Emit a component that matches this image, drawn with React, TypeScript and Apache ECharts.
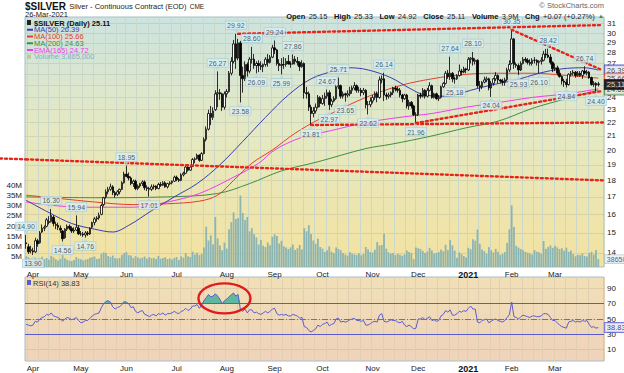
import React, { useEffect, useRef } from "react";
import * as echarts from "echarts";

// ---------- DATA ----------
const holidays = ["2020-04-10", "2020-05-25", "2020-07-03", "2020-09-07", "2020-11-26", "2020-12-25", "2021-01-01", "2021-01-18", "2021-02-15"];

const opens = [
  14.50,14.30,14.10,14.10,14.05,14.60,14.50,15.05,15.25,15.35,
  15.60,15.60,15.85,15.45,15.40,15.25,15.10,14.75,15.20,15.35,
  15.25,15.10,15.15,15.25,14.95,14.95,14.90,15.00,14.95,15.30,
  15.55,15.75,15.80,16.00,16.55,17.00,17.30,17.45,17.60,17.25,
  17.15,17.30,17.45,17.85,18.40,18.25,18.15,17.80,17.95,17.50,
  17.65,17.80,17.90,17.55,17.50,17.45,17.60,17.65,17.50,17.75,
  17.70,17.85,17.60,17.80,17.85,17.95,18.20,18.05,18.00,18.35,
  18.45,18.85,18.65,18.90,19.35,19.40,19.65,19.30,19.75,20.75,
  21.50,22.70,22.40,23.00,24.30,24.40,24.30,23.20,24.30,24.50,
  26.10,27.20,28.90,27.50,29.00,25.90,25.60,26.90,26.30,27.40,
  27.40,26.80,27.00,26.80,26.70,26.90,27.40,27.10,27.60,28.50,
  28.30,27.00,26.80,26.90,26.90,27.20,26.95,26.95,27.40,27.20,
  27.10,26.70,27.00,24.40,24.30,23.20,22.70,22.90,23.20,24.00,
  23.50,23.90,24.10,24.40,23.40,23.70,23.90,24.90,25.00,24.10,
  24.30,24.20,24.30,24.60,24.80,25.00,24.60,24.60,24.40,24.60,
  23.40,23.40,23.70,24.00,24.30,24.00,25.50,25.60,24.20,24.10,
  24.20,24.40,24.80,24.70,24.60,24.20,23.90,24.20,23.30,23.60,
  23.30,22.60,22.60,24.20,24.10,24.60,24.10,24.60,25.00,24.00,
  24.30,23.90,24.00,24.90,25.20,26.10,25.80,26.10,25.60,25.60,
  25.90,26.30,26.20,26.50,26.40,27.40,27.50,27.20,27.30,25.00,
  24.90,25.30,25.50,25.60,24.80,25.20,25.60,25.90,25.50,25.40,
  25.30,25.50,26.40,27.00,29.40,26.90,26.80,26.40,27.00,27.40,
  27.30,27.10,27.00,27.30,27.30,27.10,27.20,27.30,27.90,27.80,
  27.60,27.10,26.50,26.60,26.10,25.80,25.40,25.30,25.10,26.00,
  26.10,26.20,25.90,26.10,25.90,26.30,26.10,26.20,25.70,25.10,
  25.20,25.15,
];
const highs = [
  14.90,14.45,14.35,14.25,14.75,14.70,15.10,15.45,15.40,15.80,
  15.90,16.30,15.95,15.60,15.55,15.40,15.15,15.25,15.45,15.45,
  15.35,15.30,15.94,15.40,15.10,15.05,15.10,15.10,15.30,15.60,
  15.85,15.90,16.10,16.60,17.00,17.45,17.60,17.80,17.70,17.35,
  17.40,17.50,17.95,18.55,18.95,18.50,18.25,18.05,18.05,17.75,
  17.85,18.00,18.00,17.70,17.60,17.75,17.75,17.70,17.85,17.90,
  17.95,17.95,17.85,17.95,18.00,18.30,18.30,18.15,18.45,18.55,
  18.90,18.95,18.90,19.45,19.50,19.75,19.70,19.85,20.90,21.70,
  23.00,23.30,23.20,24.60,26.27,24.70,24.40,24.50,24.70,26.30,
  27.60,29.30,29.92,29.40,29.20,26.70,27.20,27.10,27.60,28.60,
  27.90,27.20,27.30,27.20,27.00,27.60,27.90,27.80,28.80,29.24,
  28.40,27.40,27.50,27.60,27.50,27.80,27.20,27.86,27.70,27.60,
  27.20,27.30,27.10,24.90,24.50,23.40,23.20,23.50,24.20,24.10,
  24.20,24.40,24.67,24.60,23.90,24.10,25.10,25.71,25.10,24.50,
  24.40,24.60,24.90,25.00,25.30,25.10,24.90,24.80,24.80,24.70,
  23.70,24.00,24.20,24.50,24.50,25.80,25.90,26.14,24.40,24.40,
  24.50,24.90,25.00,24.90,24.80,24.30,24.30,24.30,23.80,23.70,
  23.40,22.80,24.30,24.40,24.80,24.70,24.80,25.30,25.10,24.40,
  24.40,24.20,25.00,25.30,26.30,26.40,27.64,26.20,25.80,26.00,
  26.90,26.50,26.70,26.60,27.60,27.60,28.10,27.50,27.40,25.40,
  25.40,25.80,25.80,25.70,25.40,25.70,26.20,26.00,25.60,25.60,
  25.70,26.60,27.30,30.35,29.50,27.10,27.00,27.20,27.60,27.60,
  27.50,27.40,27.50,27.60,27.40,27.30,27.60,28.20,28.40,28.42,
  27.90,27.20,27.00,26.80,26.40,25.90,25.60,25.60,26.10,26.30,
  26.40,26.30,26.30,26.30,26.40,26.74,26.40,26.30,25.80,25.40,
  25.30,25.33,
];
const lows = [
  14.20,13.95,13.98,13.90,14.00,14.30,14.45,15.00,15.10,15.30,
  15.45,15.55,15.35,15.20,15.15,15.00,14.56,14.70,15.10,15.15,
  15.00,15.00,15.10,14.90,14.85,14.80,14.76,14.85,14.90,15.25,
  15.40,15.60,15.70,15.95,16.45,16.90,17.15,17.35,17.10,16.95,
  17.05,17.15,17.40,17.80,18.20,18.00,17.70,17.60,17.40,17.40,
  17.55,17.65,17.40,17.35,17.01,17.35,17.45,17.40,17.45,17.60,
  17.65,17.55,17.50,17.70,17.75,17.90,17.95,17.90,17.95,18.25,
  18.40,18.55,18.60,18.85,19.10,19.35,19.20,19.25,19.70,20.60,
  21.40,21.80,22.20,22.90,23.20,23.80,22.90,23.00,24.00,24.40,
  25.90,27.00,26.50,27.30,23.58,24.40,25.40,25.80,26.10,27.00,
  26.50,26.09,26.20,26.40,26.20,26.70,26.70,27.00,27.50,27.90,
  26.80,26.30,25.99,26.50,26.70,26.90,26.60,26.90,26.90,26.80,
  26.30,26.60,23.90,23.90,22.90,21.81,22.40,22.70,23.10,23.20,
  23.40,23.30,23.90,22.97,23.20,23.60,23.80,24.70,23.90,23.90,
  23.65,24.00,24.10,24.30,24.60,24.40,24.40,24.10,24.20,23.10,
  22.62,23.20,23.50,23.80,23.60,23.90,25.20,23.70,23.80,23.90,
  24.00,24.20,24.50,24.40,24.00,23.60,23.80,23.10,23.00,23.10,
  22.50,21.96,22.50,23.90,24.00,23.90,24.00,24.50,23.90,23.90,
  23.80,23.70,23.90,24.80,25.10,25.60,25.50,25.30,25.18,25.50,
  25.80,25.90,26.10,26.10,26.30,27.00,26.80,26.90,24.80,24.50,
  24.70,25.20,25.30,24.60,24.04,25.00,25.40,25.20,25.20,25.00,
  25.00,25.40,26.20,26.90,26.50,26.60,25.93,26.30,26.90,27.10,
  26.90,26.80,26.80,27.00,26.80,26.10,26.90,27.20,27.50,27.50,
  26.90,26.20,26.30,25.90,25.70,25.10,24.90,24.84,25.00,25.80,
  25.90,25.70,25.80,25.80,25.60,26.00,25.90,25.60,25.00,24.90,
  24.40,24.92,
];
const closes = [
  14.45,14.05,14.15,14.05,14.60,14.45,15.00,15.25,15.30,15.70,
  15.55,15.95,15.50,15.40,15.30,15.15,14.70,15.20,15.35,15.25,
  15.10,15.15,15.30,14.95,14.95,14.90,15.00,14.95,15.25,15.55,
  15.75,15.80,15.95,16.50,16.95,17.30,17.45,17.60,17.25,17.10,
  17.30,17.45,17.85,18.40,18.25,18.15,17.80,17.95,17.50,17.65,
  17.80,17.90,17.55,17.50,17.45,17.60,17.65,17.50,17.75,17.70,
  17.85,17.60,17.80,17.85,17.95,18.20,18.05,18.00,18.35,18.45,
  18.85,18.65,18.85,19.35,19.40,19.65,19.30,19.75,20.75,21.50,
  22.70,22.40,22.90,24.30,24.40,24.30,23.20,24.30,24.50,26.10,
  27.20,28.90,27.50,29.00,25.90,25.60,26.90,26.30,27.40,27.40,
  26.80,27.00,26.80,26.70,26.90,27.40,27.10,27.60,28.50,28.30,
  27.00,26.80,26.90,26.90,27.20,26.95,26.95,27.40,27.20,27.10,
  26.70,27.00,24.40,24.30,23.20,22.70,22.90,23.20,24.00,23.50,
  23.90,24.10,24.40,23.40,23.70,23.90,24.90,25.00,24.10,24.30,
  24.20,24.30,24.60,24.80,25.00,24.60,24.60,24.40,24.60,23.40,
  23.40,23.70,24.00,24.30,24.00,25.50,25.60,24.20,24.10,24.20,
  24.40,24.80,24.70,24.60,24.20,23.90,24.20,23.30,23.60,23.30,
  22.60,22.60,24.20,24.10,24.60,24.10,24.60,25.00,24.00,24.30,
  23.90,24.00,24.90,25.20,26.10,25.80,26.10,25.60,25.60,25.90,
  26.30,26.20,26.50,26.40,27.40,27.50,27.20,27.30,25.00,24.90,
  25.30,25.50,25.60,24.80,25.20,25.60,25.90,25.50,25.40,25.30,
  25.50,26.40,26.90,29.40,26.90,26.80,26.40,27.00,27.40,27.30,
  27.10,27.00,27.30,27.30,27.10,27.20,27.30,27.90,27.80,27.60,
  27.10,26.50,26.60,26.10,25.80,25.40,25.30,25.10,26.00,26.10,
  26.20,25.90,26.10,25.90,26.30,26.10,26.20,25.70,25.10,25.20,
  25.04,25.11,
];

// volume in millions of contracts
const volumesM = [
  5.2,4.8,4.1,3.5,4.6,3.8,4.2,5.0,3.9,4.4,3.6,5.5,4.7,3.8,3.2,4.0,5.8,4.3,3.6,3.1,2.9,3.4,4.9,4.1,
  3.8,3.2,3.6,3.9,4.5,4.8,5.1,3.9,4.2,6.4,7.2,6.8,5.4,4.9,5.6,4.3,4.1,4.4,5.9,6.8,
  7.3,5.8,5.6,4.4,5.3,4.7,4.2,4.6,5.1,4.0,4.8,4.3,4.5,3.9,5.4,4.1,4.4,4.8,3.9,4.2,3.7,4.5,
  4.9,3.4,5.2,4.6,6.8,5.3,4.9,7.5,6.1,7.0,5.8,6.4,
  9.5,19.8,13.0,15.5,11.0,24.5,14.0,10.5,8.2,12.0,
  9.0,18.5,22.0,26.8,23.5,24.0,35.0,26.5,23.0,24.5,17.5,19.0,16.0,14.5,11.0,13.2,10.5,9.8,12.0,10.6,14.8,
  16.0,15.2,11.5,12.8,10.2,9.5,8.8,9.6,11.0,8.4,9.2,10.8,8.6,19.0,17.5,20.5,16.2,13.0,11.4,13.8,9.8,
  9.0,7.4,8.2,10.1,7.5,6.8,9.6,8.8,8.2,6.9,6.1,5.6,7.3,6.5,6.2,5.9,6.7,5.8,6.4,9.8,8.6,7.3,
  7.1,8.4,12.2,10.5,10.8,16.3,9.0,7.2,6.5,6.9,5.8,6.4,6.0,5.5,6.2,8.1,7.4,6.8,3.9,9.6,
  9.2,8.8,7.9,6.8,7.6,9.4,8.1,6.6,6.9,7.3,8.6,7.7,10.9,8.3,13.2,10.6,8.0,4.5,7.2,6.3,5.4,4.6,
  9.4,8.7,13.6,12.9,18.3,11.4,8.6,7.8,6.5,9.7,8.2,7.1,8.9,7.5,5.9,6.4,7.3,11.8,18.5,
  30.2,19.6,10.4,9.5,8.8,8.2,7.4,7.0,6.6,6.1,8.3,7.5,7.2,6.5,12.7,8.9,9.8,10.6,9.4,
  10.4,9.6,8.8,9.2,8.0,9.5,7.4,8.1,6.3,5.2,6.0,5.8,6.6,5.4,5.2,6.9,7.4,6.1,8.3,3.865,
];

const rsi14 = [
  43,42,41,42, 47,46,50,52,53,56,55,58,54, 53,52,50,47,50,52,51,49,50,52,48, 45,46,48,
  48,51,54,56,57,58, 65,70,73,74,72, 66,63,65,66,69,73, 72,70,65,66,60, 58,60,61,56,55,53,55,56,
  54,57,56,58,55,57,57,58,60, 58,57,60,61,64,61,63, 67,67,69,64,68, 74,78,82,79,80,83,80,76, 70,
  74,76,79,82,84,80,82, 62, 60,63,58,62,62,58,59, 57,56,58,60,58,60,63, 64,57,55,56,
  55,56,54,54,56,55,54,51,52, 40,39,35,33,35, 37,42,40, 43,44,46,41,43,44,50,51,
  46,47,46,47,49,50,51,48,48,47,48,42,42,44, 46,47,46,55,57,47,46, 47,49,48,48,46,45,47,42,
  40,42,40,37,38, 50,50,52,49,51,53,48,49,47, 48,54,56,61,59,62,55,55,57,60, 59,61,60,64,67,63,
  63,46, 45,48,49,50,45,47,49,50,48,47,46,48,52,56, 72, 53,52,50,53,
  55,54,53,52,54,54,53,53,54,57,57,56, 52,48, 48,45,42,40,39,38, 46,47,48,46,47,46,48,47,48,
  43,39,40,38,38.83,
];

// moving averages: [trading-day index, value]
const ma50Pts = [[0,16.8],[10,16.1],[20,15.5],[30,15.2],[38,15.05],[45,15.4],[55,16.2],[65,17.0],[75,17.8],[85,19.0],[95,20.6],[105,22.4],[115,24.2],[125,25.6],[135,26.3],[142,26.6],[150,26.4],[160,25.7],[168,24.8],[175,24.2],[185,24.1],[195,24.6],[205,25.1],[215,25.5],[225,26.1],[235,26.5],[245,26.6],[251,26.39]];
const ma100Pts = [[0,17.1],[15,16.9],[30,16.7],[47,16.55],[62,16.6],[76,16.75],[84,17.1],[91,18.0],[99,19.1],[108,20.0],[118,21.2],[128,22.2],[135,22.8],[149,24.0],[164,25.0],[178,25.6],[193,26.0],[208,26.1],[222,26.1],[237,25.9],[251,25.66]];
const ma200Pts = [[0,17.0],[30,16.95],[62,17.0],[84,17.2],[98,17.8],[112,18.6],[128,19.2],[149,20.1],[160,20.4],[178,21.0],[193,21.6],[207,22.1],[222,23.1],[237,23.9],[251,24.63]];
const ema165Pts = [[0,16.7],[12,16.5],[25,16.4],[47,16.4],[62,16.7],[76,17.2],[91,18.2],[102,19.1],[109,20.0],[121,20.9],[134,21.4],[149,22.0],[164,22.4],[178,22.7],[193,23.2],[208,23.6],[222,24.0],[237,24.3],[251,24.72]];

const priceTicks = [14,15,16,17,18,19,20,21,22,23,24,25,26,27,28,29,30,31];
const rsiTicks = [10,30,50,70,90];

const highMarks = [0,11,22,44,84,92,99,109,117,132,137,157,186,196,213,229,245];
const lowMarks = [3,16,26,54,94,101,112,125,133,140,150,171,188,204,216,225,237,250];

// trend lines: [fromIndex, fromPrice, toIndex, toPrice]
const trendLines = [
  [93, 29.92, 253, 30.85],
  [213, 30.35, 253, 26.35],
  [125, 21.81, 253, 22.0],
  [171, 21.96, 253, 24.55],
  [0, 19.36, 253, 18.0],
];
const overboughtCircle = { idx: 87, rsi: 77 };

// ---------- helpers ----------
function tradingDays(): string[] {
  const out: string[] = [];
  const d = new Date(Date.UTC(2020, 2, 27));
  const end = Date.UTC(2021, 2, 26);
  while (d.getTime() <= end) {
    const wd = d.getUTCDay();
    const s = d.toISOString().slice(0, 10);
    if (wd !== 0 && wd !== 6 && holidays.indexOf(s) < 0) out.push(s);
    d.setUTCDate(d.getUTCDate() + 1);
  }
  return out;
}
const MONTHS = ["Jan","Feb","Mar","Apr","May","Jun","Jul","Aug","Sep","Oct","Nov","Dec"];
const FONT = "Liberation Sans, Arial, sans-serif";
const RED = "#e8231a";

function buildOption() {
  const dates = tradingDays();
  const N = dates.length;
  const cats = [...dates, "pad-1", "pad-2"];
  const dow = (s: string) => new Date(s + "T00:00:00Z").getUTCDay();
  const isMonthStart = (i: number) => i > 0 && i < N && dates[i].slice(0, 7) !== dates[i - 1].slice(0, 7);
  const isWeekStart = (i: number) => i > 0 && i < N && dow(dates[i]) <= dow(dates[i - 1]);
  const fmtMonth = (v: string) => {
    if (v.startsWith("pad")) return "";
    const m = +v.slice(5, 7) - 1;
    return m === 0 ? `{b|${v.slice(0, 4)}}` : MONTHS[m];
  };
  const monthLabel = {
    show: true, interval: (i: number) => isMonthStart(i), formatter: fmtMonth,
    fontSize: 8, color: "#222", margin: 3, fontFamily: FONT,
    rich: { b: { fontWeight: "bold", fontSize: 9, color: "#111", fontFamily: FONT } },
  };
  const weekLinesMain = { show: true, interval: (i: number) => isWeekStart(i), lineStyle: { color: "#cbd7c8", width: 1, opacity: 1 } };
  const weekLinesRsi = { show: true, interval: (i: number) => isWeekStart(i), lineStyle: { color: "#e2cfb2", width: 1, opacity: 1 } };
  const hidden = { axisLine: { show: false }, axisTick: { show: false } };

  const candles = dates.map((_, i) => [opens[i], closes[i], lows[i], highs[i]]);
  const last = (a: number[][]) => a[a.length - 1][1];

  const annLabel = {
    show: true, fontSize: 7, fontFamily: FONT, color: "#1f3940",
    backgroundColor: "#d9edf2", borderColor: "#9fc7d2", borderWidth: 0.6,
    padding: [1, 1.5, 0, 1.5], formatter: (p: any) => p.value[1].toFixed(2),
  };
  const sideLabel = (border: string, bg: string, color: string) => ({
    show: true, position: "right", distance: 2, fontSize: 7.5, fontFamily: FONT, color,
    backgroundColor: bg, borderColor: border, borderWidth: 1, padding: [1, 2, 0, 2],
    formatter: (p: any) => p.value[1].toFixed(2),
  });

  const gradMain = new echarts.graphic.LinearGradient(0, 0, 0, 1, [
    { offset: 0, color: "#cce3df" }, { offset: 0.45, color: "#e5e9c3" }, { offset: 1, color: "#f3e2a0" },
  ]);
  const gradRsi = new echarts.graphic.LinearGradient(0, 0, 0, 1, [
    { offset: 0, color: "#f1dfb6" }, { offset: 1, color: "#efd3bb" },
  ]);

  const legendRows = [
    { text: `$SILVER (Daily) ${closes[N - 1].toFixed(2)}`, color: "#111", bold: true },
    { text: `MA(50) ${last(ma50Pts).toFixed(2)}`, color: "#3b3bb0" },
    { text: `MA(100) ${last(ma100Pts).toFixed(2)}`, color: "#e0402a" },
    { text: `MA(200) ${last(ma200Pts).toFixed(2)}`, color: "#3f8f3f" },
    { text: `EMA(165) ${last(ema165Pts).toFixed(2)}`, color: "#ee3cee" },
    { text: `Volume ${Math.round(volumesM[N - 1] * 1e6).toLocaleString("en-US")}`, color: "#7fb0c6" },
  ];

  const graphic: any[] = [
    {
      id: "title", type: "text", left: 25, top: 0, z: 50,
      style: {
        text: "{a|$SILVER} {b|Silver - Continuous Contract (EOD)} {c|CME}",
        rich: {
          a: { font: `bold 10px ${FONT}`, fill: "#111" },
          b: { font: `7.5px ${FONT}`, fill: "#222" },
          c: { font: `6.5px ${FONT}`, fill: "#222" },
        },
      },
    },
    { id: "date", type: "text", left: 25, top: 10, z: 50, style: { text: "26-Mar-2021", font: `7.5px ${FONT}`, fill: "#222" } },
    { id: "copy", type: "text", right: 20, top: 1, z: 50, style: { text: "© StockCharts.com", font: `7.5px ${FONT}`, fill: "#666" } },
    {
      id: "ohlc", type: "text", right: 20, top: 10, z: 50,
      style: {
        text: "{l|Open} {v|25.15}  {l|High} {v|25.33}  {l|Low} {v|24.92}  {l|Close} {v|25.11}  {l|Volume} {v|3.9M}  {l|Chg} {v|+0.07 (+0.27%)} {g|▲}",
        rich: {
          l: { font: `bold 7.5px ${FONT}`, fill: "#111" },
          v: { font: `7.5px ${FONT}`, fill: "#222" },
          g: { font: `6px ${FONT}`, fill: "#2a9a2a" },
        },
      },
    },
    ...legendRows.map((r, i) => ({
      id: "leg" + i, type: "group", left: 27, top: 19 + i * 6.75, z: 50,
      children: [
        i === 0
          ? { type: "rect", z: 50, shape: { x: 0, y: 1, width: 4, height: 5 }, style: { fill: "#222" } }
          : i === 5
            ? { type: "rect", z: 50, shape: { x: 0, y: 2, width: 4, height: 4 }, style: { fill: "#b9c99a" } }
            : { type: "rect", z: 50, shape: { x: 0, y: 3, width: 6, height: 2 }, style: { fill: r.color } },
        { type: "text", z: 50, x: 7, y: 0, style: { text: r.text, fill: r.color, font: `${r.bold ? "bold " : ""}7.5px ${FONT}`, verticalAlign: "top" } },
      ],
    })),
    {
      id: "rsiLeg", type: "group", left: 27, top: 279, z: 50,
      children: [
        { type: "rect", z: 50, shape: { x: 0, y: 1, width: 4, height: 5 }, style: { fill: "#5c5cd0" } },
        { type: "text", z: 50, x: 6, y: 0, style: { text: `RSI(14) ${rsi14[N - 1].toFixed(2)}`, fill: "#333", font: `7.5px ${FONT}`, verticalAlign: "top" } },
      ],
    },
  ];

  const option: any = {
    animation: false,
    backgroundColor: "#ffffff",
    textStyle: { fontFamily: FONT },
    grid: [
      { left: 25, width: 579, top: 17, height: 250, show: true, backgroundColor: gradMain, borderColor: "#a9bccb", borderWidth: 1 },
      { left: 25, width: 579, top: 277, height: 86, show: true, backgroundColor: gradRsi, borderColor: "#a9bccb", borderWidth: 1 },
    ],
    xAxis: [
      { type: "category", gridIndex: 0, data: cats, boundaryGap: true, ...hidden, axisLabel: monthLabel, splitLine: weekLinesMain },
      { type: "category", gridIndex: 1, data: cats, boundaryGap: true, ...hidden, axisLabel: monthLabel, splitLine: weekLinesRsi },
    ],
    yAxis: [
      {
        type: "log", logBase: 10, gridIndex: 0, position: "right", min: 13.33, max: 31.72,
        axisLine: { show: false }, axisTick: { show: false, customValues: priceTicks },
        axisLabel: { customValues: priceTicks, fontSize: 8, color: "#222", margin: 3, fontFamily: FONT, formatter: (v: number) => String(Math.round(v)) },
        splitLine: { show: true, lineStyle: { color: "rgba(100,125,125,0.17)" } },
      },
      {
        type: "value", gridIndex: 0, position: "left", min: 0, max: 122.5, interval: 5,
        axisLine: { show: false }, axisTick: { show: false }, splitLine: { show: false },
        axisLabel: { fontSize: 8, color: "#222", margin: 3, fontFamily: FONT, formatter: (v: number) => (v > 0 && v <= 40 ? v + "M" : "") },
      },
      {
        type: "value", gridIndex: 1, position: "right", min: -5, max: 105,
        axisLine: { show: false }, axisTick: { show: false, customValues: rsiTicks },
        axisLabel: { customValues: rsiTicks, fontSize: 8, color: "#222", margin: 3, fontFamily: FONT },
        splitLine: { show: true, lineStyle: { color: "rgba(110,120,120,0.16)" } },
      },
    ],
    series: [
      {
        name: "Volume", type: "bar", xAxisIndex: 0, yAxisIndex: 1, data: volumesM, barWidth: "78%",
        itemStyle: { color: "#8cb4b1" }, z: 1, silent: true,
      },
      ...[
        { name: "MA(200)", pts: ma200Pts, color: "#3f8f3f" },
        { name: "EMA(165)", pts: ema165Pts, color: "#ee3cee" },
        { name: "MA(100)", pts: ma100Pts, color: "#e0402a" },
        { name: "MA(50)", pts: ma50Pts, color: "#3b3bb0" },
      ].map((m) => ({
        name: m.name, type: "line", xAxisIndex: 0, yAxisIndex: 0, data: m.pts, smooth: 0.35,
        symbol: "none", lineStyle: { color: m.color, width: 1 }, z: 2, silent: true,
      })),
      {
        name: "$SILVER", type: "candlestick", xAxisIndex: 0, yAxisIndex: 0, data: candles, barWidth: 2,
        itemStyle: { color: "#ffffff", color0: "#000000", borderColor: "#000000", borderColor0: "#000000", borderWidth: 0.8 },
        z: 3,
        markLine: {
          silent: true, symbol: ["none", "none"], label: { show: false },
          lineStyle: { color: RED, type: [2, 3], width: 2.4, cap: "round" },
          data: trendLines.map((t) => [{ coord: [t[0], t[1]] }, { coord: [t[2], t[3]] }]),
        },
      },
      {
        name: "highs", type: "scatter", xAxisIndex: 0, yAxisIndex: 0,
        data: highMarks.map((i) => [i, highs[i]]),
        symbol: "triangle", symbolRotate: 180, symbolSize: [5, 4], symbolOffset: [0, -2.5],
        itemStyle: { color: "#b7dbe4" }, z: 5,
        label: { ...annLabel, position: "top", distance: 0 },
      },
      {
        name: "lows", type: "scatter", xAxisIndex: 0, yAxisIndex: 0,
        data: lowMarks.map((i) => [i, lows[i]]),
        symbol: "triangle", symbolSize: [5, 4], symbolOffset: [0, 2.5],
        itemStyle: { color: "#b7dbe4" }, z: 5,
        label: { ...annLabel, position: "bottom", distance: 0 },
      },
      {
        name: "lastValues", type: "scatter", xAxisIndex: 0, yAxisIndex: 0, symbolSize: 0, z: 6, clip: false,
        data: [
          { value: [253, last(ma50Pts)], label: sideLabel("#3b3bb0", "#e2e6f4", "#222") },
          { value: [253, last(ma100Pts)], label: sideLabel("#e0402a", "#f6e3dc", "#222") },
          { value: [253, last(ema165Pts)], label: sideLabel("#ee3cee", "#f5e2f2", "#222") },
          { value: [253, last(ma200Pts)], label: sideLabel("#3f8f3f", "#e1efdc", "#222") },
          { value: [253, closes[N - 1]], label: sideLabel("#111", "#111", "#fff") },
        ],
      },
      {
        name: "lastVolume", type: "scatter", xAxisIndex: 0, yAxisIndex: 1, symbolSize: 0, z: 6, clip: false,
        data: [[253, volumesM[N - 1]]],
        label: { show: true, position: "right", distance: 2, fontSize: 7, fontFamily: FONT, color: "#335", backgroundColor: "#e6eef2", borderColor: "#9fb7c4", borderWidth: 0.6, padding: [1, 2, 0, 2], formatter: (p: any) => String(Math.round(p.value[1] * 1e6)) },
      },
      {
        name: "RSI overbought", type: "line", xAxisIndex: 1, yAxisIndex: 2,
        data: rsi14.map((v) => Math.max(v, 70)), symbol: "none", lineStyle: { width: 0, opacity: 0 },
        areaStyle: { origin: 70, color: "#4fb39c", opacity: 0.9 }, z: 2, silent: true,
      },
      {
        name: "RSI(14)", type: "line", xAxisIndex: 1, yAxisIndex: 2, data: rsi14, symbol: "none",
        lineStyle: { color: "#5c5cd0", width: 1 }, z: 3, silent: true,
        markLine: {
          silent: true, symbol: ["none", "none"], label: { show: false },
          lineStyle: { color: "#5a5acc", width: 1, type: "solid" },
          data: [
            { yAxis: 70 },
            { yAxis: 30 },
            { yAxis: 50, lineStyle: { type: [6, 2, 1, 2], color: "#6a6ad0" } },
          ],
        },
      },
      {
        name: "rsiLast", type: "scatter", xAxisIndex: 1, yAxisIndex: 2, symbolSize: 0, z: 6, clip: false,
        data: [[253, rsi14[N - 1]]],
        label: { ...sideLabel("#5c5cd0", "#e6e6f6", "#222") },
      },
    ],
    graphic,
  };
  return option;
}

export default function App() {
  const ref = useRef<HTMLDivElement>(null);
  useEffect(() => {
    const chart = echarts.init(ref.current!, undefined, { renderer: "svg" });
    chart.setOption(buildOption());
    const extra: any[] = [];
    // red ellipse around the overbought RSI zone
    const c = chart.convertToPixel({ xAxisIndex: 1, yAxisIndex: 2 }, [overboughtCircle.idx, overboughtCircle.rsi]) as number[];
    if (c && isFinite(c[0])) {
      extra.push({ id: "ring", type: "ellipse", z: 100, shape: { cx: c[0], cy: c[1], rx: 26, ry: 15 }, style: { fill: "none", stroke: "#e21a1a", lineWidth: 2.4 } });
    }
    // extend the long falling trend line into the left margin
    const t = trendLines[4];
    const p0 = chart.convertToPixel({ xAxisIndex: 0, yAxisIndex: 0 }, [t[0], t[1]]) as number[];
    const p1 = chart.convertToPixel({ xAxisIndex: 0, yAxisIndex: 0 }, [t[2], t[3]]) as number[];
    if (p0 && p1 && isFinite(p0[1]) && isFinite(p1[1])) {
      const slope = (p1[1] - p0[1]) / (p1[0] - p0[0]);
      extra.push({ id: "ext", type: "line", z: 100, shape: { x1: 0, y1: p0[1] - p0[0] * slope, x2: p0[0], y2: p0[1] }, style: { stroke: RED, lineWidth: 2.4, lineDash: [2, 3], lineCap: "round" } });
    }
    if (extra.length) chart.setOption({ graphic: extra });
    return () => chart.dispose();
  }, []);
  return <div ref={ref} style={{ position: "fixed", left: 0, top: 0, width: 624, height: 373, background: "#fff" }} />;
}
